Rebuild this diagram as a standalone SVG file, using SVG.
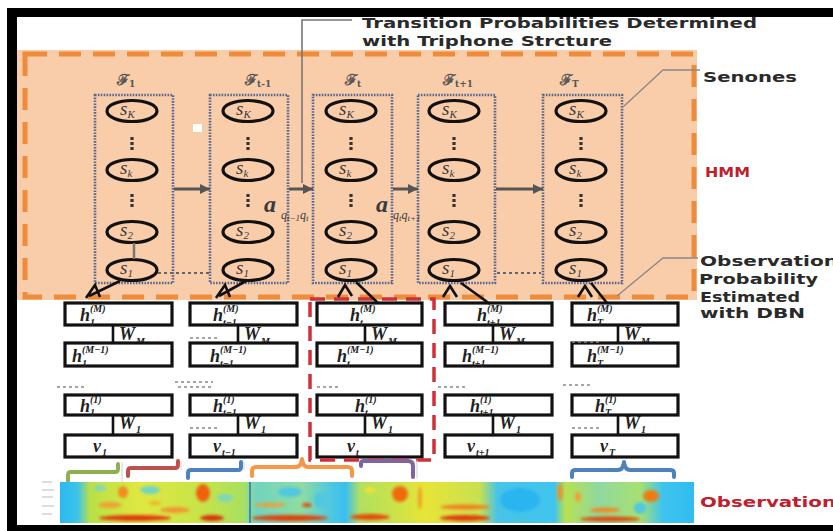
<svg xmlns="http://www.w3.org/2000/svg" width="833" height="531" viewBox="0 0 833 531">
<defs>
<style>
.colbox{fill:none;stroke:#56678f;stroke-width:2.6;stroke-dasharray:1.6 1.3}
.state{fill:none;stroke:#111;stroke-width:3.2}
.st{font-family:"Liberation Serif",serif;font-style:italic;font-size:19px;fill:#3a3a3a}
.sb{font-size:11px}
.lbl{font-family:"DejaVu Serif","Liberation Serif",serif;font-weight:bold;font-size:15px;fill:#555}
.lbs{font-size:9px}
.box{fill:#fff;stroke:#111;stroke-width:3.2}
.m{font-family:"Liberation Serif",serif;font-style:italic;font-weight:bold;font-size:18px;fill:#222}
.ms{font-size:10px}
.ann{font-family:"DejaVu Sans",sans-serif;font-weight:bold;font-size:14px;fill:#2a2a2a}
.red{fill:#c0202e}
.arr{stroke:#555;stroke-width:3;fill:none}
.lead{stroke:#888;stroke-width:1.3;fill:none}
.conn{stroke:#111;stroke-width:2.6;fill:none}
.dots{stroke:#888;stroke-width:1.6;stroke-dasharray:3 3;fill:none}
.brk{fill:none;stroke-width:4;stroke-linecap:round;stroke-linejoin:round}
.faint{stroke:#cfcfcf;stroke-width:1;fill:none}
</style>
<marker id="ah" viewBox="0 0 10 10" refX="10" refY="5" markerWidth="3.5" markerHeight="3.5" orient="auto" markerUnits="strokeWidth"><path d="M0,0 L10,5 L0,10 z" fill="#555"/></marker>
<g id="vd"><rect x="-1.6" y="0" width="3.2" height="3" fill="#333"/><rect x="-1.6" y="5" width="3.2" height="3" fill="#333"/><rect x="-1.6" y="10" width="3.2" height="3" fill="#333"/></g>
<filter id="bl" x="-50%" y="-50%" width="200%" height="200%"><feGaussianBlur stdDeviation="1.6"/></filter>
<linearGradient id="spg" x1="0" x2="1" y1="0" y2="0">
<stop offset="0" stop-color="#2ab8f0"/>
<stop offset="0.028" stop-color="#3cc4ea"/>
<stop offset="0.047" stop-color="#b8e048"/>
<stop offset="0.126" stop-color="#e0e840"/>
<stop offset="0.22" stop-color="#c8e448"/>
<stop offset="0.29" stop-color="#a8e060"/>
<stop offset="0.31" stop-color="#70d4c0"/>
<stop offset="0.38" stop-color="#90dca0"/>
<stop offset="0.426" stop-color="#50c8e0"/>
<stop offset="0.45" stop-color="#38c0f0"/>
<stop offset="0.473" stop-color="#b0e060"/>
<stop offset="0.552" stop-color="#d8e440"/>
<stop offset="0.576" stop-color="#e8e438"/>
<stop offset="0.662" stop-color="#c8e050"/>
<stop offset="0.69" stop-color="#48c4e8"/>
<stop offset="0.78" stop-color="#40c4ee"/>
<stop offset="0.797" stop-color="#b8e050"/>
<stop offset="0.85" stop-color="#90d8a0"/>
<stop offset="0.915" stop-color="#a8e070"/>
<stop offset="0.95" stop-color="#40c4ee"/>
<stop offset="1" stop-color="#30bcf0"/>
</linearGradient>
<clipPath id="spc"><rect x="60" y="482" width="634" height="41"/></clipPath>
</defs>

<rect width="833" height="531" fill="#fff"/>

<g id="frame" fill="#000">
<rect x="7" y="8" width="826" height="9"/>
<rect x="7" y="8" width="10" height="523"/>
<rect x="7" y="525" width="826" height="6"/>
</g>

<g id="hmm-region">
<rect x="17" y="50" width="680" height="250" fill="#facdaa"/>
<rect x="25" y="54" width="669" height="243" fill="none" stroke="#ee8c3a" stroke-width="5" stroke-dasharray="22 12"/>
<rect x="193" y="124" width="9" height="8" fill="#fff"/>
</g>

<g id="state-col1">
<text class="lbl" x="117" y="85">ℱ<tspan class="lbs" dy="2">1</tspan></text>
<rect class="colbox" x="95" y="95" width="78" height="188"/>
<ellipse class="state" cx="132" cy="111" rx="25" ry="10.5"/><text class="st" x="120" y="115">s<tspan class="sb" dy="3">K</tspan></text>
<use href="#vd" x="132" y="137"/>
<ellipse class="state" cx="132" cy="170" rx="25" ry="10.5"/><text class="st" x="120" y="174">s<tspan class="sb" dy="3">k</tspan></text>
<use href="#vd" x="132" y="194"/>
<ellipse class="state" cx="132" cy="232" rx="25" ry="10.5"/><text class="st" x="120" y="236">s<tspan class="sb" dy="3">2</tspan></text>
<ellipse class="state" cx="132" cy="270" rx="25" ry="10.5"/><text class="st" x="120" y="274">s<tspan class="sb" dy="3">1</tspan></text>
</g>

<g id="state-col2">
<text class="lbl" x="245" y="85">ℱ<tspan class="lbs" dy="2">t-1</tspan></text>
<rect class="colbox" x="210" y="95" width="78" height="188"/>
<ellipse class="state" cx="248" cy="111" rx="25" ry="10.5"/><text class="st" x="236" y="115">s<tspan class="sb" dy="3">K</tspan></text>
<use href="#vd" x="248" y="137"/>
<ellipse class="state" cx="248" cy="170" rx="25" ry="10.5"/><text class="st" x="236" y="174">s<tspan class="sb" dy="3">k</tspan></text>
<use href="#vd" x="248" y="194"/>
<ellipse class="state" cx="248" cy="232" rx="25" ry="10.5"/><text class="st" x="236" y="236">s<tspan class="sb" dy="3">2</tspan></text>
<ellipse class="state" cx="248" cy="270" rx="25" ry="10.5"/><text class="st" x="236" y="274">s<tspan class="sb" dy="3">1</tspan></text>
</g>

<g id="state-col3">
<text class="lbl" x="345" y="85">ℱ<tspan class="lbs" dy="2">t</tspan></text>
<rect class="colbox" x="313" y="95" width="79" height="188"/>
<ellipse class="state" cx="351" cy="111" rx="25" ry="10.5"/><text class="st" x="339" y="115">s<tspan class="sb" dy="3">K</tspan></text>
<use href="#vd" x="351" y="137"/>
<ellipse class="state" cx="351" cy="170" rx="25" ry="10.5"/><text class="st" x="339" y="174">s<tspan class="sb" dy="3">k</tspan></text>
<use href="#vd" x="351" y="194"/>
<ellipse class="state" cx="351" cy="232" rx="25" ry="10.5"/><text class="st" x="339" y="236">s<tspan class="sb" dy="3">2</tspan></text>
<ellipse class="state" cx="351" cy="270" rx="25" ry="10.5"/><text class="st" x="339" y="274">s<tspan class="sb" dy="3">1</tspan></text>
</g>

<g id="state-col4">
<text class="lbl" x="443" y="85">ℱ<tspan class="lbs" dy="2">t+1</tspan></text>
<rect class="colbox" x="418" y="95" width="77" height="188"/>
<ellipse class="state" cx="454" cy="111" rx="25" ry="10.5"/><text class="st" x="442" y="115">s<tspan class="sb" dy="3">K</tspan></text>
<use href="#vd" x="454" y="137"/>
<ellipse class="state" cx="454" cy="170" rx="25" ry="10.5"/><text class="st" x="442" y="174">s<tspan class="sb" dy="3">k</tspan></text>
<use href="#vd" x="454" y="194"/>
<ellipse class="state" cx="454" cy="232" rx="25" ry="10.5"/><text class="st" x="442" y="236">s<tspan class="sb" dy="3">2</tspan></text>
<ellipse class="state" cx="454" cy="270" rx="25" ry="10.5"/><text class="st" x="442" y="274">s<tspan class="sb" dy="3">1</tspan></text>
</g>

<g id="state-col5">
<text class="lbl" x="560" y="85">ℱ<tspan class="lbs" dy="2">T</tspan></text>
<rect class="colbox" x="543" y="95" width="79" height="188"/>
<ellipse class="state" cx="581" cy="111" rx="25" ry="10.5"/><text class="st" x="569" y="115">s<tspan class="sb" dy="3">K</tspan></text>
<use href="#vd" x="581" y="137"/>
<ellipse class="state" cx="581" cy="170" rx="25" ry="10.5"/><text class="st" x="569" y="174">s<tspan class="sb" dy="3">k</tspan></text>
<use href="#vd" x="581" y="194"/>
<ellipse class="state" cx="581" cy="232" rx="25" ry="10.5"/><text class="st" x="569" y="236">s<tspan class="sb" dy="3">2</tspan></text>
<ellipse class="state" cx="581" cy="270" rx="25" ry="10.5"/><text class="st" x="569" y="274">s<tspan class="sb" dy="3">1</tspan></text>
</g>

<g id="transition-labels">
<text class="st" x="264" y="212" style="font-size:24px;font-weight:bold">a</text>
<text class="st" x="281" y="219" style="font-size:12px">q<tspan style="font-size:9px" dy="2">t−1</tspan><tspan dy="-2">q</tspan><tspan style="font-size:9px" dy="2">t</tspan></text>
<text class="st" x="376" y="212" style="font-size:24px;font-weight:bold">a</text>
<text class="st" x="393" y="219" style="font-size:12px">q<tspan style="font-size:9px" dy="2">t</tspan><tspan dy="-2">q</tspan><tspan style="font-size:9px" dy="2">t+1</tspan></text>
</g>

<g id="dbn-col1">
<rect class="box" x="65" y="303" width="107" height="22"/>
<text class="m" x="80" y="321">h</text><text class="m ms" x="90" y="312">(M)</text><text class="m ms" x="90" y="326">1</text>
<text class="m" x="119" y="340">W</text><text class="m ms" x="136" y="345">M</text>
<rect class="box" x="65" y="343" width="107" height="23"/>
<text class="m" x="72" y="362">h</text><text class="m ms" x="82" y="353">(M−1)</text><text class="m ms" x="82" y="367">1</text>
<rect class="box" x="65" y="395" width="107" height="20"/>
<text class="m" x="80" y="412">h</text><text class="m ms" x="90" y="403">(1)</text><text class="m ms" x="90" y="416">1</text>
<text class="m" x="119" y="429">W</text><text class="m ms" x="136" y="433">1</text>
<rect class="box" x="65" y="435" width="107" height="22"/>
<text class="m" x="93" y="452">v</text><text class="m ms" x="102" y="456">1</text>
</g>

<g id="dbn-col2">
<rect class="box" x="190" y="303" width="107" height="22"/>
<text class="m" x="213" y="321">h</text><text class="m ms" x="223" y="312">(M)</text><text class="m ms" x="223" y="326">t−1</text>
<text class="m" x="244" y="340">W</text><text class="m ms" x="261" y="345">M</text>
<rect class="box" x="190" y="343" width="107" height="23"/>
<text class="m" x="210" y="362">h</text><text class="m ms" x="220" y="353">(M−1)</text><text class="m ms" x="220" y="367">t−1</text>
<rect class="box" x="190" y="395" width="107" height="20"/>
<text class="m" x="213" y="412">h</text><text class="m ms" x="223" y="403">(1)</text><text class="m ms" x="223" y="416">t−1</text>
<text class="m" x="244" y="429">W</text><text class="m ms" x="261" y="433">1</text>
<rect class="box" x="190" y="435" width="107" height="22"/>
<text class="m" x="213" y="452">v</text><text class="m ms" x="222" y="456">t−1</text>
</g>

<g id="dbn-col3">
<rect class="box" x="317" y="303" width="105" height="22"/>
<text class="m" x="350" y="321">h</text><text class="m ms" x="360" y="312">(M)</text><text class="m ms" x="360" y="326">t</text>
<text class="m" x="371" y="340">W</text><text class="m ms" x="388" y="345">M</text>
<rect class="box" x="317" y="343" width="105" height="23"/>
<text class="m" x="337" y="362">h</text><text class="m ms" x="347" y="353">(M−1)</text><text class="m ms" x="347" y="367">t</text>
<rect class="box" x="317" y="395" width="105" height="20"/>
<text class="m" x="355" y="412">h</text><text class="m ms" x="365" y="403">(1)</text><text class="m ms" x="365" y="416">t</text>
<text class="m" x="371" y="429">W</text><text class="m ms" x="388" y="433">1</text>
<rect class="box" x="317" y="435" width="105" height="22"/>
<text class="m" x="347" y="452">v</text><text class="m ms" x="356" y="456">t</text>
</g>

<g id="dbn-col4">
<rect class="box" x="445" y="303" width="107" height="22"/>
<text class="m" x="477" y="321">h</text><text class="m ms" x="487" y="312">(M)</text><text class="m ms" x="487" y="326">t+1</text>
<text class="m" x="499" y="340">W</text><text class="m ms" x="516" y="345">M</text>
<rect class="box" x="445" y="343" width="107" height="23"/>
<text class="m" x="462" y="362">h</text><text class="m ms" x="472" y="353">(M−1)</text><text class="m ms" x="472" y="367">t+1</text>
<rect class="box" x="445" y="395" width="107" height="20"/>
<text class="m" x="470" y="412">h</text><text class="m ms" x="480" y="403">(1)</text><text class="m ms" x="480" y="416">t+1</text>
<text class="m" x="499" y="429">W</text><text class="m ms" x="516" y="433">1</text>
<rect class="box" x="445" y="435" width="107" height="22"/>
<text class="m" x="467" y="452">v</text><text class="m ms" x="476" y="456">t+1</text>
</g>

<g id="dbn-col5">
<rect class="box" x="572" y="303" width="106" height="22"/>
<text class="m" x="587" y="321">h</text><text class="m ms" x="597" y="312">(M)</text><text class="m ms" x="597" y="326">T</text>
<text class="m" x="624" y="340">W</text><text class="m ms" x="641" y="345">M</text>
<rect class="box" x="572" y="343" width="106" height="23"/>
<text class="m" x="587" y="362">h</text><text class="m ms" x="597" y="353">(M−1)</text><text class="m ms" x="597" y="367">T</text>
<rect class="box" x="572" y="395" width="106" height="20"/>
<text class="m" x="595" y="412">h</text><text class="m ms" x="605" y="403">(1)</text><text class="m ms" x="605" y="416">T</text>
<text class="m" x="624" y="429">W</text><text class="m ms" x="641" y="433">1</text>
<rect class="box" x="572" y="435" width="106" height="22"/>
<text class="m" x="600" y="452">v</text><text class="m ms" x="609" y="456">T</text>
</g>

<g id="focus-frame">
<rect x="310" y="299" width="124" height="161" fill="none" stroke="#d03038" stroke-width="3.5" stroke-dasharray="15 9"/>
</g>

<g id="connectors">
<line class="arr" x1="174" y1="189" x2="210" y2="189" marker-end="url(#ah)"/>
<line class="arr" x1="289" y1="189" x2="313" y2="189" marker-end="url(#ah)"/>
<line class="arr" x1="393" y1="189" x2="418" y2="189" marker-end="url(#ah)"/>
<line class="arr" x1="496" y1="189" x2="543" y2="189" marker-end="url(#ah)"/>
<line x1="134" y1="243" x2="134" y2="259" stroke="#777" stroke-width="2.5"/>
<line x1="158" y1="273" x2="212" y2="273" stroke="#666" stroke-width="2" stroke-dasharray="3 3"/>
<line x1="497" y1="273" x2="541" y2="273" stroke="#666" stroke-width="2" stroke-dasharray="3 3"/>
<polyline points="352,20 302,20 302,183" fill="none" stroke="#777" stroke-width="1.6"/>
<polyline class="lead" points="623,107 663,70 700,70"/>
<polyline class="lead" points="617,296 663,258 698,258"/>
<path class="conn" d="M120,281 L89,296 M86,298 L95,285 L100,297"/>
<path class="conn" d="M246,281 L219,296 M216,298 L225,285 L230,297"/>
<path class="conn" d="M356,282 L378,303 M338,297 L345,285 L352,296"/>
<path class="conn" d="M461,283 L490,304 M443,297 L450,286 L457,297"/>
<path class="conn" d="M591,283 L607,303 M578,297 L585,286 L592,297"/>
<path class="conn" d="M113,325 V343 M113,415 V435 M238,325 V343 M238,415 V435 M365,325 V343 M365,415 V435 M493,325 V343 M493,415 V435 M618,325 V343 M618,415 V435"/>
<path class="dots" d="M190,338 H218 M572,342 H600 M190,428 H218 M572,428 H600 M57,387 H87 M175,382 H213 M178,387 H213 M317,387 H340 M438,387 H468 M563,385 H592"/>
</g>

<g id="annotations">
<text class="ann" x="362" y="28" textLength="395" lengthAdjust="spacingAndGlyphs">Transition Probabilities Determined</text>
<text class="ann" x="362" y="46" textLength="250" lengthAdjust="spacingAndGlyphs">with Triphone Strcture</text>
<text class="ann" x="703" y="82" textLength="94" lengthAdjust="spacingAndGlyphs">Senones</text>
<text class="ann red" x="705" y="177" textLength="45" lengthAdjust="spacingAndGlyphs">HMM</text>
<text class="ann" x="700" y="266" textLength="138" lengthAdjust="spacingAndGlyphs">Observation</text>
<text class="ann" x="699" y="284" textLength="119" lengthAdjust="spacingAndGlyphs">Probability</text>
<text class="ann" x="700" y="302" textLength="100" lengthAdjust="spacingAndGlyphs">Estimated</text>
<text class="ann" x="700" y="318" textLength="105" lengthAdjust="spacingAndGlyphs">with DBN</text>
<text class="ann red" x="700" y="507" textLength="136" lengthAdjust="spacingAndGlyphs">Observation</text>
</g>

<g id="segments">
<path class="faint" d="M122,462 V482 M181,461 V470 M244,462 V470 M417,460 V478"/>
<path class="brk" stroke="#8fb04f" d="M68,481 L68,475 Q68,472 71,472 L115,472 Q118,472 118,469 L118,464"/>
<path class="brk" stroke="#c0504d" d="M128,476 L128,471 Q128,468 131,468 L175,468 Q178,468 178,465 L178,461"/>
<path class="brk" stroke="#4f81bd" d="M188,478 L188,473 Q188,470 191,470 L238,470 Q241,470 241,467 L241,462"/>
<path class="brk" stroke="#f79646" d="M252,476 L252,471 Q252,467 256,467 L296,467 Q301,467 302,459 Q303,467 308,467 L348,467 Q352,467 352,471 L352,476"/>
<path class="brk" stroke="#8064a2" d="M361,466 L361,463 Q361,461 364,461 L408,461 Q413,461 413,466 L413,477"/>
<path class="brk" stroke="#4f81bd" d="M572,477 L572,473 Q572,470 576,470 L618,470 Q623,470 624,462 Q625,470 630,470 L670,470 Q674,470 674,473 L674,477"/>
</g>

<g id="spectrogram">
<path d="M42,482 H52 M42,490 H54 M42,497 H53 M42,506 H54 M42,514 H52" stroke="#bbb" stroke-width="1.2"/>
<g clip-path="url(#spc)">
<rect x="60" y="482" width="634" height="41" fill="url(#spg)"/>
<g filter="url(#bl)">
<ellipse cx="150" cy="490" rx="10" ry="4" fill="#70d4c8"/>
<ellipse cx="100" cy="488" rx="6" ry="3" fill="#80d8c0"/>
<ellipse cx="225" cy="498" rx="8" ry="4" fill="#80d8b8"/>
<ellipse cx="290" cy="492" rx="12" ry="5" fill="#50c8e0"/>
<ellipse cx="320" cy="500" rx="6" ry="8" fill="#50c8e0"/>
<ellipse cx="370" cy="490" rx="6" ry="3" fill="#f0e038"/>
<ellipse cx="520" cy="500" rx="20" ry="12" fill="#2ab4f0"/>
<ellipse cx="640" cy="508" rx="6" ry="6" fill="#50c8e0"/>
<ellipse cx="123" cy="492" rx="5" ry="6" fill="#f08a20"/>
<ellipse cx="110" cy="505" rx="12" ry="3" fill="#f0a030"/>
<ellipse cx="135" cy="518" rx="36" ry="3" fill="#e03a10"/>
<ellipse cx="175" cy="510" rx="15" ry="3" fill="#f09830"/>
<ellipse cx="155" cy="503" rx="6" ry="2" fill="#f0b030"/>
<ellipse cx="203" cy="493" rx="7" ry="9" fill="#f06010"/>
<ellipse cx="212" cy="518" rx="12" ry="3" fill="#d83010"/>
<ellipse cx="270" cy="505" rx="16" ry="2" fill="#f0a030"/>
<ellipse cx="290" cy="518" rx="38" ry="3" fill="#e04010"/>
<ellipse cx="307" cy="505" rx="5" ry="2" fill="#e05010"/>
<ellipse cx="370" cy="517" rx="20" ry="3" fill="#e84a10"/>
<ellipse cx="400" cy="494" rx="8" ry="8" fill="#f06a10"/>
<ellipse cx="420" cy="498" rx="2" ry="12" fill="#f0a020"/>
<ellipse cx="465" cy="507" rx="25" ry="2.5" fill="#f08020"/>
<ellipse cx="465" cy="518" rx="25" ry="3" fill="#e03c10"/>
<ellipse cx="560" cy="492" rx="2.5" ry="9" fill="#f09020"/>
<ellipse cx="578" cy="497" rx="3" ry="5" fill="#f0a030"/>
<ellipse cx="605" cy="510" rx="15" ry="2.5" fill="#f08a20"/>
<ellipse cx="610" cy="519" rx="30" ry="2.5" fill="#e04a10"/>
<ellipse cx="651" cy="496" rx="8" ry="6" fill="#f07a10"/>
</g>
<line x1="250" y1="482" x2="250" y2="523" stroke="#2070d0" stroke-width="1.5"/>
</g>
</g>
</svg>
